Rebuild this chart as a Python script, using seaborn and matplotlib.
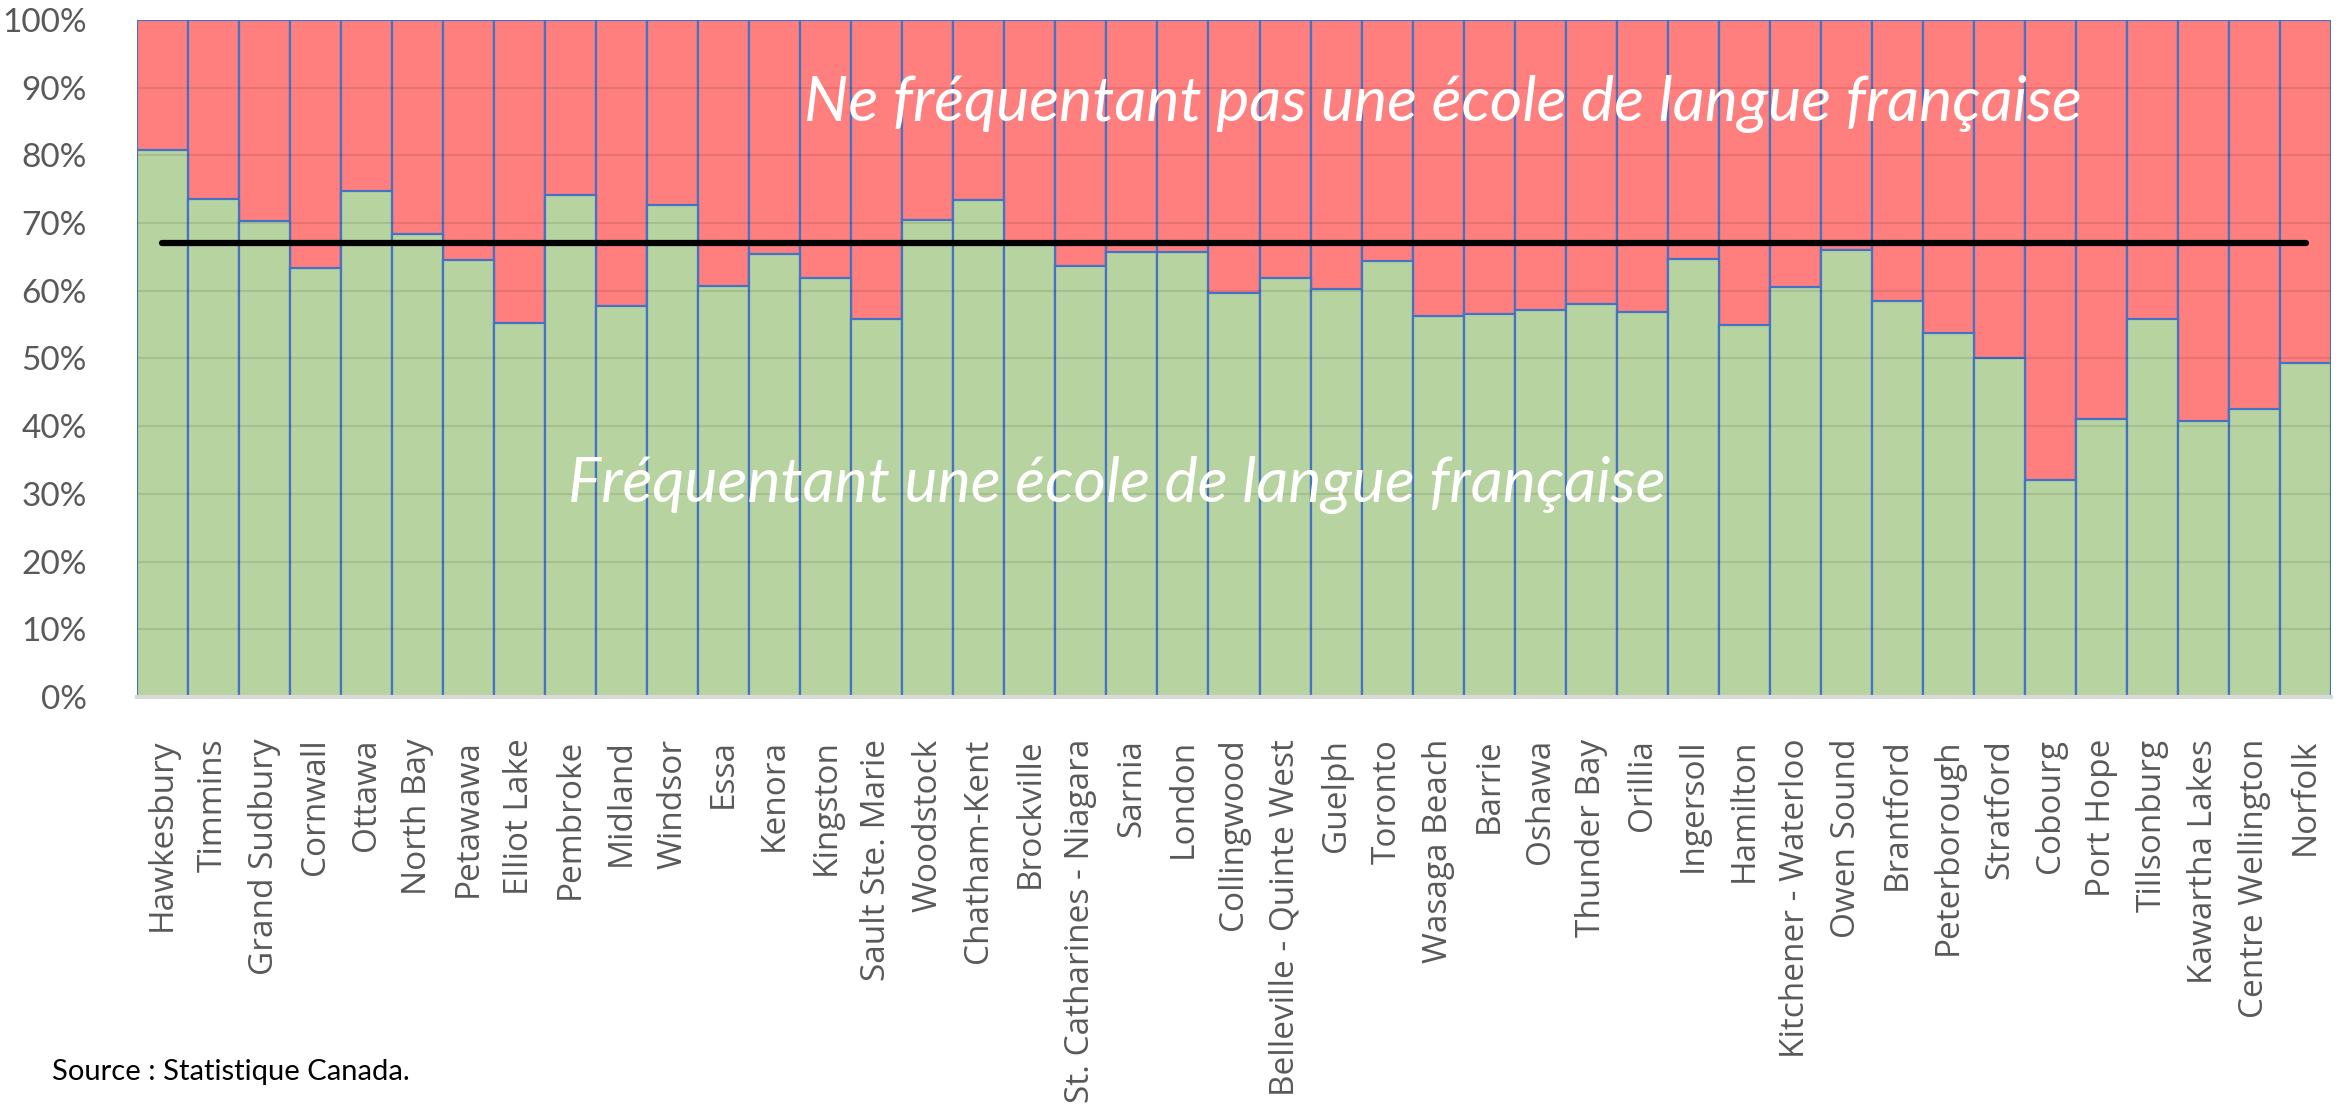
import matplotlib
matplotlib.use("Agg")
import matplotlib.pyplot as plt
import numpy as np
import pandas as pd
import seaborn as sns

# data (share attending a French-language school, %)
REGIONS = [
    "Hawkesbury", "Timmins", "Grand Sudbury", "Cornwall", "Ottawa", "North Bay",
    "Petawawa", "Elliot Lake", "Pembroke", "Midland", "Windsor", "Essa", "Kenora",
    "Kingston", "Sault Ste. Marie", "Woodstock", "Chatham-Kent", "Brockville",
    "St. Catharines - Niagara", "Sarnia", "London", "Collingwood",
    "Belleville - Quinte West", "Guelph", "Toronto", "Wasaga Beach", "Barrie",
    "Oshawa", "Thunder Bay", "Orillia", "Ingersoll", "Hamilton",
    "Kitchener - Waterloo", "Owen Sound", "Brantford", "Peterborough", "Stratford",
    "Cobourg", "Port Hope", "Tillsonburg", "Kawartha Lakes", "Centre Wellington",
    "Norfolk",
]
FREQ = [
    80.8, 73.6, 70.3, 63.4, 74.7, 68.4, 64.5, 55.2, 74.1, 57.8, 72.6, 60.7, 65.5,
    61.9, 55.9, 70.5, 73.4, 67.0, 63.6, 65.7, 65.7, 59.7, 61.9, 60.2, 64.4, 56.3,
    56.5, 57.1, 58.1, 56.8, 64.7, 54.9, 60.5, 66.0, 58.5, 53.7, 50.0, 32.1, 41.0,
    55.9, 40.8, 42.5, 49.4,
]
TOTAL = [100.0] * len(REGIONS)
AVERAGE = 67.0
Y_TICKS = list(range(0, 101, 10))

LABEL_TOP = "Ne fréquentant pas une école de langue française"
LABEL_BOTTOM = "Fréquentant une école de langue française"
SOURCE = "Source : Statistique Canada."

RED = "#FF7F7F"
GREEN = "#B6D3A0"
EDGE = "#4472C4"
GREY_TXT = "#595959"

sns.set_theme(style="white")
plt.rcParams["font.family"] = ["Lato", "DejaVu Sans"]

df = pd.DataFrame({"region": REGIONS, "freq": FREQ, "total": TOTAL})

fig = plt.figure(figsize=(23.44, 11.05), dpi=100)
ax = fig.add_axes([0.0584, 0.3692, 0.9361, 0.6128])

sns.barplot(data=df, x="region", y="total", color=RED, saturation=1, width=1.0,
            edgecolor=EDGE, linewidth=1.6, ax=ax, zorder=2)
sns.barplot(data=df, x="region", y="freq", color=GREEN, saturation=1, width=1.0,
            edgecolor=EDGE, linewidth=1.6, ax=ax, zorder=3)

# average line across the bar centres
ax.plot([0, len(REGIONS) - 1], [AVERAGE, AVERAGE], color="black", lw=4.5,
        solid_capstyle="round", zorder=5)

ax.set_xlim(-0.5, len(REGIONS) - 0.5)
ax.set_ylim(0, 100)
ax.set_yticks(Y_TICKS)
ax.set_yticklabels([f"{t}%" for t in Y_TICKS], fontsize=24, color=GREY_TXT)
ax.tick_params(axis="y", length=0, pad=36)
ax.tick_params(axis="x", length=0, pad=30)
ax.set_xticks(range(len(REGIONS)))
ax.set_xticklabels(REGIONS, rotation=90, fontsize=24, color=GREY_TXT,
                   family=["Open Sans", "DejaVu Sans"], va="top", ha="center")
ax.set_xlabel("")
ax.set_ylabel("")

for y in Y_TICKS[1:-1]:
    ax.axhline(y, color="black", alpha=0.09, lw=1.5, zorder=4)

for side in ["top", "right", "left"]:
    ax.spines[side].set_visible(False)
ax.spines["bottom"].set_color("#D9D9D9")
ax.spines["bottom"].set_linewidth(3)
ax.spines["bottom"].set_zorder(6)

ax.text(25.1, 87.6, LABEL_TOP, color="white", fontsize=45, style="italic",
        ha="center", va="center", zorder=6)
ax.text(18.7, 31.3, LABEL_BOTTOM, color="white", fontsize=45, style="italic",
        ha="center", va="center", zorder=6)

fig.text(0.022, 0.023, SOURCE, fontsize=21, color="black", ha="left",
         va="baseline")

fig.savefig("out.png", dpi=100)
